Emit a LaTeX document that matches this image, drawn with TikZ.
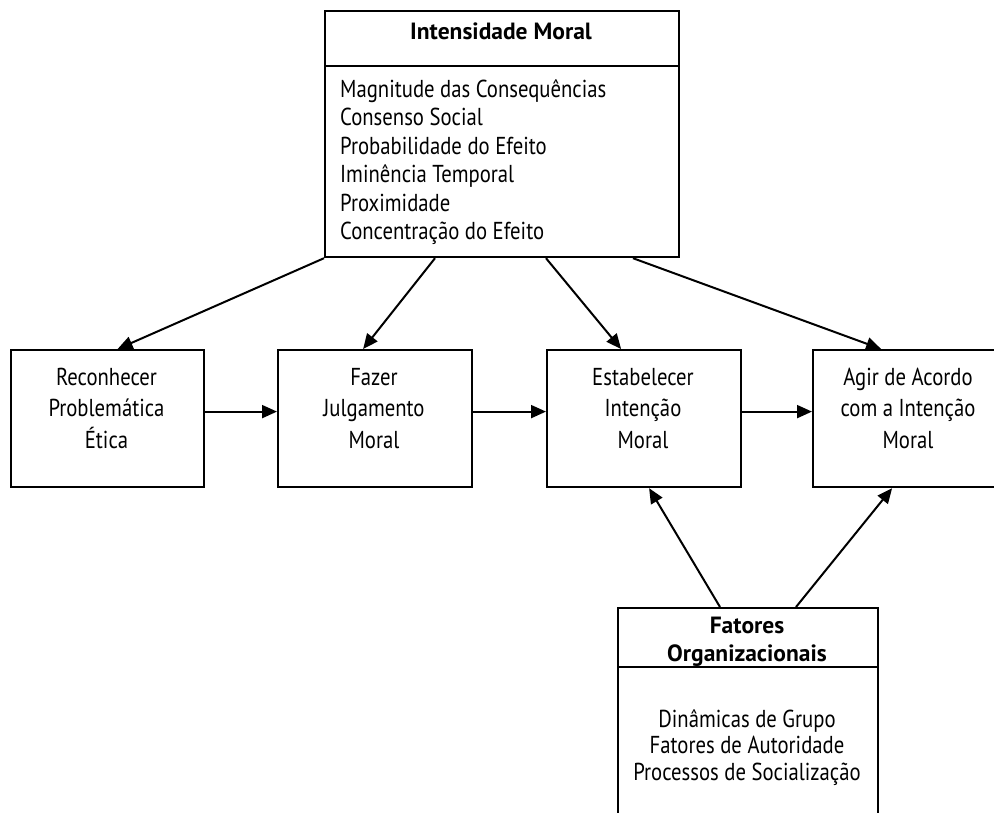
\documentclass[tikz,border=0pt]{standalone}
\usepackage{fontspec}
\setmainfont{PT Sans}[FakeStretch=0.845]
\newfontfamily\headfont{PT Sans}
\usetikzlibrary{arrows.meta}
\begin{document}
\begin{tikzpicture}[x=1pt,y=-1pt,
  box/.style={draw, line width=2.2pt, rectangle, anchor=north west, inner sep=0pt},
  txt/.style={anchor=base, inner sep=0pt, font=\fontsize{24.5}{28}\selectfont},
  ttl/.style={anchor=base, inner sep=0pt, font=\headfont\fontsize{23.5}{28}\selectfont\bfseries},
  rule/.style={line width=2.2pt},
  link/.style={line width=2pt, -{Triangle[length=15pt,width=13pt]}}]
\useasboundingbox (0,0) rectangle (994,812);
\clip (0,0) rectangle (994,812);

% top box: moral intensity
\node[box, minimum width=354pt, minimum height=246pt] (im) at (324,10) {};
\draw[rule] ([yshift=-56pt]im.north west) -- ([yshift=-56pt]im.north east);
\node[ttl] (imt) at (501,39) {Intensidade Moral};
\foreach \t [count=\i] in {Magnitude das Consequências, Consenso Social,
    Probabilidade do Efeito, Iminência Temporal, Proximidade,
    Concentração do Efeito}
  \node[txt, anchor=base west] (iml\i) at (340,{97+28.5*(\i-1)}) {\t};

% decision stages
\node[box, minimum width=193pt, minimum height=137pt] (b1) at (10,349) {};
\node[box, minimum width=194pt, minimum height=137pt] (b2) at (277,349) {};
\node[box, minimum width=194pt, minimum height=137pt] (b3) at (546,349) {};
\node[box, minimum width=192pt, minimum height=137pt] (b4) at (812,349) {};

\node[txt] (b1a) at (106.5,385) {Reconhecer};
\node[txt] (b1b) at (106.5,416.5) {Problemática};
\node[txt] (b1c) at (106.5,448) {Ética};
\node[txt] (b2a) at (374,385) {Fazer};
\node[txt] (b2b) at (374,416.5) {Julgamento};
\node[txt] (b2c) at (374,448) {Moral};
\node[txt] (b3a) at (643,385) {Estabelecer};
\node[txt] (b3b) at (643,416.5) {Intenção};
\node[txt] (b3c) at (643,448) {Moral};
\node[txt] (b4a) at (908,385) {Agir de Acordo};
\node[txt] (b4b) at (908,416.5) {com a Intenção};
\node[txt] (b4c) at (908,448) {Moral};

% bottom box: organisational factors
\node[box, minimum width=260pt, minimum height=230pt] (of) at (617,607) {};
\draw[rule] ([yshift=-60pt]of.north west) -- ([yshift=-60pt]of.north east);
\node[ttl] (oft1) at (747,633) {Fatores};
\node[ttl] (oft2) at (747,661) {Organizacionais};
\node[txt] (ofl1) at (747,727) {Dinâmicas de Grupo};
\node[txt] (ofl2) at (747,753.5) {Fatores de Autoridade};
\node[txt] (ofl3) at (747,780) {Processos de Socialização};

% flow between stages
\draw[link] ([yshift=7pt]b1.east) -- ([yshift=7pt]b2.west);
\draw[link] ([yshift=7pt]b2.east) -- ([yshift=7pt]b3.west);
\draw[link] ([yshift=7pt]b3.east) -- ([yshift=7pt]b4.west);

% influence of moral intensity
\draw[link] (im.south west) -- ([xshift=10pt]b1.north);
\draw[link] ([xshift=111pt]im.south west) -- ([xshift=-12pt]b2.north);
\draw[link] ([xshift=222pt]im.south west) -- ([xshift=-23pt]b3.north);
\draw[link] ([xshift=309pt]im.south west) -- ([xshift=-28pt]b4.north);

% influence of organisational factors
\draw[link] ([xshift=103pt]of.north west) -- ([xshift=5pt]b3.south);
\draw[link] ([xshift=179pt]of.north west) -- ([xshift=-17pt]b4.south);
\end{tikzpicture}
\end{document}
